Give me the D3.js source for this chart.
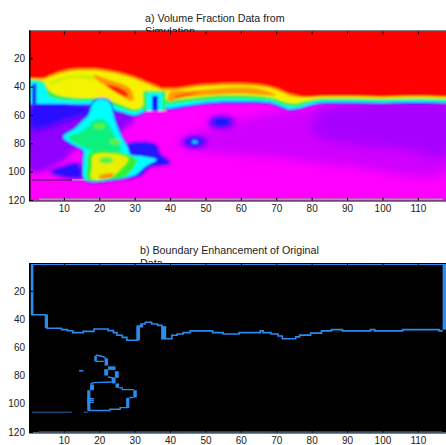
<!DOCTYPE html>
<html><head><meta charset="utf-8">
<script src="https://cdn.jsdelivr.net/npm/d3@7"></script>
<style>html,body{margin:0;padding:0;background:#fff}svg{display:block}text{font-family:"Liberation Sans",Arial,sans-serif;fill:#222}</style>
</head><body><svg id="c" width="446" height="445"></svg>
<script>
const xTicks=[10,20,30,40,50,60,70,80,90,100,110];
const yTicks=[20,40,60,80,100,120];
const titleA=["a) Volume Fraction Data from","Simulation"];
const titleB=["b) Boundary Enhancement of Original","Data"];

// interface profile: depth (row) of each colour transition, per column
const profX=[1,4,6,10,14,18,22,26,30,32,34,36,38,40,44,48,52,56,60,64,68,70,72,74,76,78,80,84,90,100,110,118];
const edgeOrange=[34,34,32,28.5,27,27,28,30,33,35,37,39,41,41,40,38.5,38,37.5,37.5,38,39.5,41,43,45,46,47,47,46.5,46.5,47,46.5,47];
const edgeYellow=[34.5,35,33,30,28.5,28.5,29.5,31.5,34.5,36.5,38.5,40.5,42.5,42.5,41.5,40,39.5,39,39,39.5,41,42.5,44.5,46.5,47.5,47.5,47.5,47,47,47.5,47,47.5];
const edgeGreen=[35,36,43,46.5,48,48,49,52.5,56,54,49,47,49,49.5,48.5,47.5,46.5,46,46,46.5,47.5,48.5,50.5,51.5,51.5,50.2,49.2,48.2,48.2,48.6,48.2,48.6];
const edgeCyan=[36,38,47,49.5,50,50,52,55,58,56,52,50,52,52,51,50,49,48.5,48.5,49,49.5,51,53,53.8,53.8,52.2,50.8,49.7,49.7,50,49.5,50];
const edgeBlue=[52,52,52,52,52.5,52.5,55,57.5,60,58.5,55,54,55,55,53.5,52,51,50.5,50.5,50.5,51,52.5,54.5,55.8,55.3,53.8,52.4,51,51,51.3,50.8,51.3];
const edgePurple=[53,53,53,53,54,54,56.5,59,61.5,60,56.5,55.5,56.5,56.5,55,53.5,52.5,52,52,52,52.5,54,56,57,56.5,55,53.7,52.4,52.4,52.6,52.2,52.6];

// closed regions, [column,row]
const regionLavender=[[62,62],[85,53],[118,51],[118,100],[90,96],[70,90],[50,86],[42,80],[50,70]];
const regionViolet=[[82,58],[92,53],[118,51],[118,88],[105,84],[90,80],[80,72]];
const regionLeftViolet=[[1,52],[24,54],[30,62],[24,74],[15,80],[10,92],[1,100]];
const regionLeftBlue=[[1,52],[17,54],[19,58],[13,62],[7,67],[3,70],[1,70]];
const regionLeftEdge=[[1,38],[2.2,38],[2.2,52],[1,52]];
const regionLowBlue=[[6,100],[10,96],[14,94],[15,104],[10,104]];
const regionRightBlue=[[28,81],[36,81],[37,87],[40,94],[34,97],[32,102],[27,104],[27,90]];
const blobCyan=[[16.9,60.2],[18.8,50],[22.5,50],[24.4,63.7],[26.3,75.6],[28.2,83.8],[28.7,87.8],[32.5,89.3],[36.2,91.6],[33.4,95.7],[30.6,101.6],[27.7,104],[24,105.6],[16,105.6],[15.5,92.1],[15.5,85],[12.2,80.3],[9.8,75.6],[13.1,69.6],[15.5,63.7]];
const blobGreenUp=[[18.3,64],[21.1,63],[23,68],[24.9,77.9],[26.3,85],[24,86],[17.4,85],[13.6,80.3],[11.2,76],[14.5,72],[16.9,68]];
const blobGreenLow=[[17,87],[25,86],[30.6,92],[29.2,99],[26.8,104],[23,105.3],[16.6,105.3],[16.6,96]];
const blobYellow=[[18.3,88.6],[24,87.4],[28.2,91],[25.8,99],[23,104],[17.8,105],[18,96]];
const blobOrange=[[20,103],[24,101.5],[23.5,104],[20,104.6]];
const crescent=[[6,37.5],[10,33],[14,31.5],[18,32.5],[20,35],[18,35.5],[14,34],[10,35.5],[7,39]];
const coreYellow=[[6,42],[9,36.5],[14,35],[19,37],[19,44],[15,47],[9,46.5]];
const islandOrangeA=[[18.3,31.8],[23,35.4],[28.7,41.3],[29.6,49.5],[28.2,49.5],[24.9,43.6],[20,36.5]];
const islandRedA=[[22,39],[24.4,39.6],[28,44.8],[27.7,47],[24,43]];
const islandOrangeB=[[39.5,50],[40,44],[45,43],[50,42],[55,41],[60,40.5],[65,41.5],[69,44.5],[70,46],[60,45],[50,46],[44,47.5]];
const islandRedB=[[41,47],[44,45],[48,44],[46,45.6],[42,47.6]];
const notchGreen=[[32.4,57],[32.4,43],[38.8,43],[38.8,57]];
const notchCyan=[[33.4,57],[33.4,44.5],[37.9,44.5],[37.9,57]];
const notchBlue=[[34.9,57],[34.9,46.5],[36.6,46.5],[36.6,57]];
// blue hollows: column,row,radius
const spotsBlue=[[54.5,65,2.6],[47,79,2.4]];
const spotsCyan=[[47,79,0.9]];
const spotsLime=[[20,68,1.6],[24.5,79,1.6],[22,92,2]];
const stripeRows=[119.5];
const stripeCols=[3,117];
const leakCols=[1,12.3,17];
const leakRow=[105.8];

// boundary picture: outline as step line, [column,row]
const outlineCols=[1.2,4.7,5.3,9.3,11,12.5,15.5,18.5,22.5,24,25,26.5,27.8,30.8,31.8,33,34.8,36.5,37.7,38.9,40.5,42,43.7,45.7,52,55,59.5,65.5,66.3,68.5,70.5,71.7,75.5,76.6,79.7,82.8,85.6,88.7,96.6,97.8,105.7,116,117];
const outlineRows=[37,37.4,46.5,47.5,48.3,49.6,48.7,47,48.2,49.6,51.5,53,55,45,43.5,42.3,43.5,44.5,54,54,51.5,50.6,49.6,48.4,49.6,50.6,49.6,48.4,49.6,50.6,52,54,52.6,51.4,50,48.4,47.5,48.4,47.5,48.4,47.5,48.4,48.4];
const blobLines=[
 [[19,65.5],[21,66.5],[22,68]],[[19,70],[21.3,70]],[[22.5,81],[24.5,82]],[[17.5,86],[18.5,85],[23.5,84.6]],
 [[17,104.8],[23,104.8],[23,103.9],[25.9,103.9],[25.9,102.7],[28,102.7]],[[28.5,95.6],[29.6,95.6]],
 [[25.6,88.7],[26.5,88.7],[26.5,90],[29.8,90]],[[14.3,76.6],[15.5,76.6]],
 [[16.6,96.4],[18.5,96.4]],[[16.6,97.7],[18.5,97.7]],[[16.6,99],[18.5,99]]];
// filled cells: col0,col1,row0,row1
const outlineBars=[[0.6,1.4,1,37.4],[4.6,5.4,38,46.5],[30.5,31.5,45,55],[31.5,32.4,44,46],[37.7,38.9,45,53.5],[117,118.6,1,47.5]];
const blobBars=[[18.6,19.3,66,70],[21.5,22.5,68,73],[21.4,22.5,75.5,80],[22.5,24.6,73.5,76],[24.4,25.5,77,81.6],[23.5,24.6,81.6,85.6],[24.6,25.6,85.6,88.7],[17.4,18.5,86.3,90.4],[16.6,17.5,90.4,105],[27.6,28.5,95.8,103],[29.6,30.6,90.4,95.6]];
const frameCols=[1,118.6];
const frameRows=[1,120];
const darkLeak=[[1,106],[12.3,106]];
const darkLeak2=[[15.6,106],[16.8,106]];

const svg=d3.select("#c");
const defs=svg.append("defs");
const addBlur=(id,s)=>defs.append("filter").attr("id",id).attr("x","-30%").attr("y","-30%").attr("width","160%").attr("height","160%")
  .append("feGaussianBlur").attr("stdDeviation",s);
addBlur("soft",1);addBlur("wide",5);addBlur("mid",2.5);addBlur("fine",1.5);

function panel(top,bottom,id,title){
  const L=30,R=446;
  const x=d3.scaleLinear().domain([1,11]).range([32,67.4]);
  const y=d3.scaleLinear().domain([20,120]).range([top+26.8,top+26.8+(bottom-top-1)*100/118.6]);
  title.forEach((t,i)=>svg.append("text").attr("x",id==="a"?145:140).attr("y",top-10+i*13).attr("font-size",10.7).text(t));
  defs.append("clipPath").attr("id","clip"+id).append("rect").attr("x",L).attr("y",top).attr("width",R-L).attr("height",bottom-top);
  const g=svg.append("g").attr("clip-path",`url(#clip${id})`);
  return {x,y,g,L,R,top,bottom};
}
function frame(p){
  const f=svg.append("g");
  const bx=d3.axisBottom(p.x).tickValues(xTicks).tickSizeInner(-3).tickSizeOuter(0).tickPadding(4);
  const tx=d3.axisTop(p.x).tickValues(xTicks).tickSizeInner(-3).tickSizeOuter(0).tickFormat("");
  const ly=d3.axisLeft(p.y).tickValues(yTicks).tickSizeInner(-3).tickSizeOuter(0).tickPadding(5);
  f.append("g").attr("transform",`translate(0,${p.bottom})`).call(bx);
  f.append("g").attr("transform",`translate(0,${p.top})`).call(tx);
  f.append("g").attr("transform",`translate(${p.L},0)`).call(ly);
  f.selectAll(".domain").remove();
  f.selectAll(".tick text").attr("font-size",10).attr("font-family","Liberation Sans").attr("fill","#222");
  f.selectAll(".tick line").attr("stroke","#000");
  f.append("rect").attr("x",p.L-.5).attr("y",p.top-.5).attr("width",p.R-p.L+2).attr("height",p.bottom-p.top+1)
    .attr("fill","none").attr("stroke","#000").attr("stroke-width",1);
  f.append("rect").attr("x",p.L-1).attr("y",p.top-1).attr("width",1.5).attr("height",p.bottom-p.top+1.5).attr("fill","#000");
}

// ---- panel a
const A=panel(31.5,200.5,"a",titleA);
const hm=A.g.append("g").attr("filter","url(#soft)");
const poly=d3.line().x(d=>A.x(d[0])).y(d=>A.y(d[1])).curve(d3.curveCatmullRomClosed.alpha(.5));
const box=d3.line().x(d=>A.x(d[0])).y(d=>A.y(d[1])).curve(d3.curveLinearClosed);
const below=d3.area().x(d=>A.x(d[0])).y0(A.bottom+10).y1(d=>A.y(d[1])).curve(d3.curveMonotoneX);
hm.append("rect").attr("x",A.L-8).attr("y",A.top-8).attr("width",A.R-A.L+16).attr("height",A.bottom-A.top+16).attr("fill","#ff0000");
const prof=e=>{const pts=profX.map((v,i)=>[v,e[i]]);pts.unshift([-5,e[0]]);pts.push([125,e[e.length-1]]);return pts;};
[[edgeOrange,"#ff9000"],[edgeYellow,"#f8f000"],[edgeGreen,"#30f050"],[edgeCyan,"#00ffff"],[edgeBlue,"#2020ff"],[edgePurple,"#ff00ff"]].forEach(([e,c])=>{
  hm.append("path").attr("d",below(prof(e))).attr("fill",c);
});
// broad purple washes stay below the interface
defs.append("clipPath").attr("id","underBand").append("path").attr("d",below(prof(edgePurple)));
const wash=hm.append("g").attr("clip-path","url(#underBand)");
const washP=(pts,c,flt)=>wash.append("path").attr("d",poly(pts)).attr("fill",c).attr("filter",`url(#${flt})`);
const washEll=(rows,c,flt)=>wash.selectAll(null).data(rows).join("ellipse")
  .attr("cx",d=>A.x(d[0])).attr("cy",d=>A.y(d[1]))
  .attr("rx",d=>A.x(d[2])-A.x(0)).attr("ry",d=>(A.y(d[2]*1.25)-A.y(0))).attr("fill",c).attr("filter",`url(#${flt})`);
washP(regionLavender,"#d000ff","wide");
washP(regionViolet,"#a800ff","wide");
washP(regionLeftViolet,"#9000ff","mid");
washP(regionLeftBlue,"#2a10ff","mid");
washP(regionLowBlue,"#2a10ff","fine");
washP(regionRightBlue,"#3010ff","fine");
washP(blobCyan,"#8000ff","mid");
washEll(spotsBlue.map(d=>[d[0],d[1],d[2]*1.5]),"#8000ff","mid");
washEll(spotsBlue,"#1818ff","fine");
const fillP=(pts,c,s,w)=>{const q=hm.append("path").attr("d",poly(pts)).attr("fill",c);if(s)q.attr("stroke",s).attr("stroke-width",w).attr("stroke-linejoin","round");return q;};
const fillB=(pts,c)=>hm.append("path").attr("d",box(pts)).attr("fill",c);
fillB(regionLeftEdge,"#1818ff");
fillP(blobCyan,"#00ffff","#1a20ff",3);
fillP(regionRightBlue,"#2818ff");
fillP(blobCyan,"#00ffff");
fillP(blobGreenUp,"#10f080");
fillP(blobGreenLow,"#30f030");
fillP(blobYellow,"#e8f000");
fillP(blobOrange,"#ff9000");
fillP(crescent,"#d4f000");
fillP(coreYellow,"#f4f400");
fillP(islandOrangeA,"#ff9800");
fillP(islandRedA,"#ff2000");
fillP(islandOrangeB,"#ff9c00");
fillP(islandRedB,"#ff5000");
fillB(notchGreen,"#30f050");
fillB(notchCyan,"#00ffff");
fillB(notchBlue,"#1818ff");
hm.selectAll(null).data(spotsCyan).join("ellipse")
  .attr("cx",d=>A.x(d[0])).attr("cy",d=>A.y(d[1]))
  .attr("rx",d=>A.x(d[2])-A.x(0)).attr("ry",d=>(A.y(d[2]*1.25)-A.y(0))).attr("fill","#10d0ff");
hm.selectAll(null).data(spotsLime).join("ellipse")
  .attr("cx",d=>A.x(d[0])).attr("cy",d=>A.y(d[1]))
  .attr("rx",d=>A.x(d[2])-A.x(0)).attr("ry",d=>(A.y(d[2]*1.25)-A.y(0))).attr("fill","#60f040");
A.g.append("line").attr("x1",A.x(leakCols[0])).attr("x2",A.x(leakCols[1])).attr("y1",A.y(leakRow[0])).attr("y2",A.y(leakRow[0])).attr("stroke","#402060").attr("stroke-width",1.3);
A.g.append("line").attr("x1",A.x(leakCols[1])).attr("x2",A.x(leakCols[2])).attr("y1",A.y(leakRow[0])).attr("y2",A.y(leakRow[0])).attr("stroke","#b0a8c0").attr("stroke-width",1.3);
A.g.append("line").attr("x1",A.x(stripeCols[0])).attr("x2",A.x(stripeCols[1])).attr("y1",A.y(stripeRows[0])).attr("y2",A.y(stripeRows[0])).attr("stroke","#70c070").attr("stroke-width",1.5);
frame(A);

// ---- panel b
const B=panel(264,432.5,"b",titleB);
const BLUE="#2a8cf0";
B.g.append("rect").attr("x",B.L).attr("y",B.top).attr("width",B.R-B.L).attr("height",B.bottom-B.top).attr("fill","#000");
const step=d3.line().x(d=>B.x(d[0])).y(d=>B.y(d[1])).curve(d3.curveStepAfter);
const seg=d3.line().x(d=>B.x(d[0])).y(d=>B.y(d[1]));
const outline=outlineCols.map((c,i)=>[c,outlineRows[i]]);
B.g.append("path").attr("d",step(outline)).attr("fill","none").attr("stroke",BLUE).attr("stroke-width",1.6);
blobLines.forEach(l=>B.g.append("path").attr("d",seg(l)).attr("fill","none").attr("stroke",BLUE).attr("stroke-width",1.4));
B.g.selectAll(null).data(outlineBars.concat(blobBars)).join("rect")
  .attr("x",d=>B.x(d[0])).attr("width",d=>B.x(d[1])-B.x(d[0]))
  .attr("y",d=>B.y(d[2])).attr("height",d=>B.y(d[3])-B.y(d[2])).attr("fill",BLUE);
B.g.append("line").attr("x1",B.x(frameCols[0])).attr("x2",B.x(frameCols[1])).attr("y1",B.y(frameRows[0])+.5).attr("y2",B.y(frameRows[0])+.5).attr("stroke",BLUE).attr("stroke-width",1.2);
B.g.append("line").attr("x1",B.x(stripeCols[0])-.5).attr("x2",B.x(stripeCols[1])-.5).attr("y1",B.y(frameRows[1])).attr("y2",B.y(frameRows[1])).attr("stroke",BLUE).attr("stroke-width",1.2);
B.g.append("path").attr("d",seg(darkLeak)).attr("stroke","#15477a").attr("stroke-width",1.3);
B.g.append("path").attr("d",seg(darkLeak2)).attr("stroke","#15477a").attr("stroke-width",1.3);
frame(B);
</script></body></html>
